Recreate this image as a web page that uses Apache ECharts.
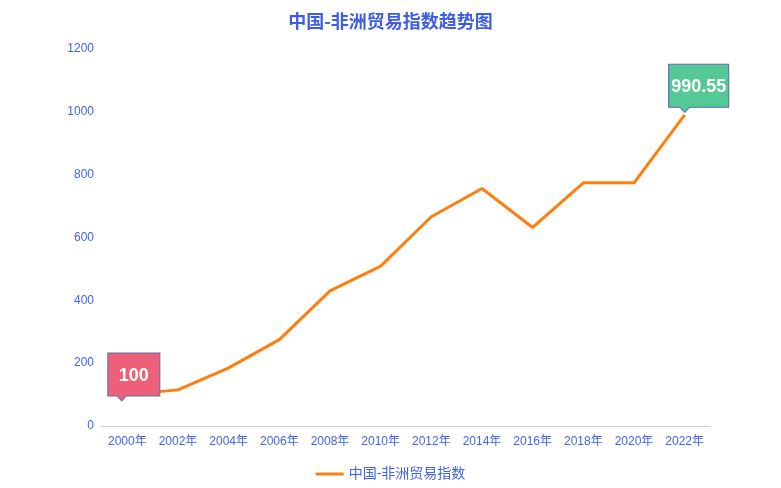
<!DOCTYPE html>
<html>
<head>
<meta charset="utf-8">
<script src="https://cdn.jsdelivr.net/npm/echarts@6/dist/echarts.min.js"></script>
<style>html,body{margin:0;padding:0;background:#fff;}#main{width:781px;height:488px;}</style>
</head>
<body>
<div id="main"></div>
<script>
var categories = ['2000年','2002年','2004年','2006年','2008年','2010年','2012年','2014年','2016年','2018年','2020年','2022年'];
var values = [100, 115, 185, 275, 430, 509, 666, 756, 632, 774, 774, 990.55];
var yTicks = { min: 0, max: 1200, interval: 200 };
var seriesName = '中国-非洲贸易指数';

var calloutPath = 'path://M0,0 L60,0 L60,43 L21,43 L16,48 L11,43 L0,43 Z';
var blue = '#4263eb';
var font = 'Liberation Sans, Noto Sans CJK SC, sans-serif';

var chart = echarts.init(document.getElementById('main'));
chart.setOption({
  animation: false,
  title: {
    text: '中国-非洲贸易指数趋势图',
    left: 'center',
    top: 7,
    textStyle: { color: '#3d5ce8', fontSize: 18, fontWeight: 'bold', fontFamily: 'Noto Sans CJK SC' }
  },
  grid: { left: 102, right: 71, top: 49, bottom: 62 },
  legend: {
    bottom: 2,
    left: 'center',
    data: [{ name: seriesName, icon: 'path://M0,0 L28,0 L28,3 L0,3 Z' }],
    itemWidth: 28,
    itemHeight: 3,
    itemGap: 5,
    textStyle: { color: blue, fontSize: 14, fontFamily: font }
  },
  xAxis: {
    type: 'category',
    data: categories,
    boundaryGap: true,
    axisLine: { lineStyle: { color: '#cccccc' } },
    axisTick: { lineStyle: { color: '#cccccc' } },
    axisLabel: { color: blue, fontSize: 12, interval: 0, margin: 10, fontFamily: font }
  },
  yAxis: {
    type: 'value',
    min: yTicks.min,
    max: yTicks.max,
    interval: yTicks.interval,
    axisLine: { show: false },
    axisTick: { show: false },
    splitLine: { show: false },
    axisLabel: { color: blue, fontSize: 12, fontFamily: font, formatter: function (v) { return String(v); } }
  },
  series: [{
    name: seriesName,
    type: 'line',
    data: values,
    symbol: 'none',
    lineStyle: { color: '#ff7f0e', width: 3 },
    itemStyle: { color: '#ff7f0e' },
    markPoint: {
      symbol: calloutPath,
      symbolKeepAspect: false,
      label: {
        show: true,
        color: '#ffffff',
        fontSize: 18,
        fontWeight: 'bold',
        fontFamily: 'Liberation Sans',
        offset: [0, -1]
      },
      data: [
        {
          coord: [0, values[0]],
          value: values[0],
          symbolSize: [52, 48],
          symbolOffset: [6.5, -17.6],
          itemStyle: { color: '#ee6079', borderColor: '#5a6fb0', borderWidth: 1 }
        },
        {
          coord: [categories.length - 1, values[values.length - 1]],
          value: values[values.length - 1],
          symbolSize: [60, 48],
          symbolOffset: [14, -26.5],
          itemStyle: { color: '#55c995', borderColor: '#5a6fb0', borderWidth: 1 }
        }
      ]
    }
  }]
});
</script>
</body>
</html>
